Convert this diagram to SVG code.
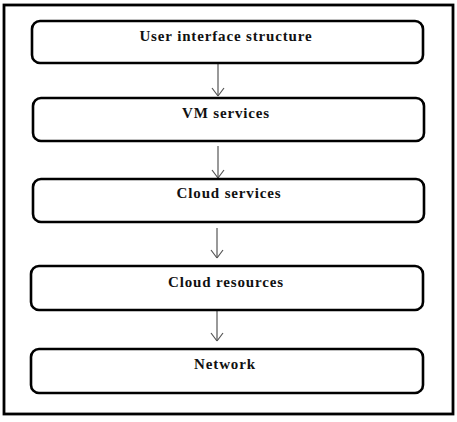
<svg xmlns="http://www.w3.org/2000/svg" width="457" height="422" viewBox="0 0 457 422">
<style>
.box{fill:#fff;stroke:#000;stroke-width:2.6}
.lbl{font-family:"Liberation Serif",serif;font-weight:bold;font-size:15px;letter-spacing:0.85px;text-anchor:middle;fill:#111}
.con{stroke:#555;stroke-width:1.2;fill:none}
</style>
<rect x="4" y="5" width="449" height="409" fill="#fff" stroke="#000" stroke-width="2.8"/>
<g id="connectors">
<path class="con" d="M218,64 V96"/>
<path class="con" d="M218,96 l-6,-8 M218,96 l6,-8"/>
<path class="con" d="M218,146 V178"/>
<path class="con" d="M218,178 l-6,-8 M218,178 l6,-8"/>
<path class="con" d="M217,228 V258"/>
<path class="con" d="M217,258 l-6,-8 M217,258 l6,-8"/>
<path class="con" d="M217,311 V341"/>
<path class="con" d="M217,341 l-6,-8 M217,341 l6,-8"/>
</g>
<g id="n1"><rect class="box" x="32" y="21" width="391" height="42" rx="8"/><text class="lbl" x="226" y="41">User interface structure</text></g>
<g id="n2"><rect class="box" x="33" y="98" width="391" height="43" rx="8"/><text class="lbl" x="226" y="118">VM services</text></g>
<g id="n3"><rect class="box" x="33" y="179" width="391" height="43" rx="8"/><text class="lbl" x="229" y="198">Cloud services</text></g>
<g id="n4"><rect class="box" x="31" y="266" width="392" height="44" rx="8"/><text class="lbl" x="226" y="287">Cloud resources</text></g>
<g id="n5"><rect class="box" x="31" y="349" width="392" height="44" rx="8"/><text class="lbl" x="225" y="369">Network</text></g>
</svg>
